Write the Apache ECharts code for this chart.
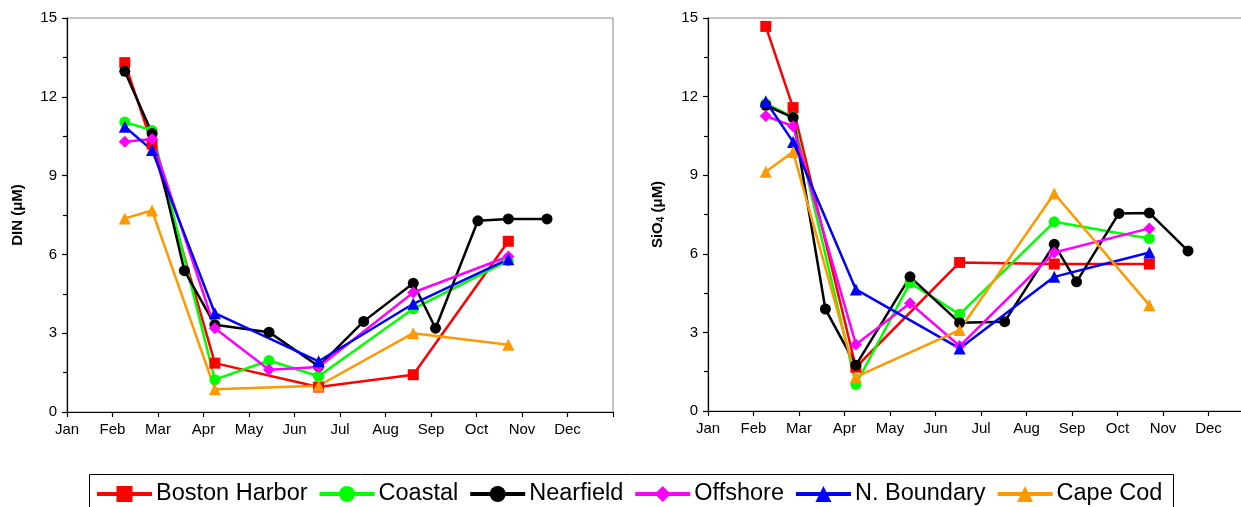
<!DOCTYPE html>
<html>
<head>
<meta charset="utf-8">
<script src="https://cdn.jsdelivr.net/npm/echarts@6/dist/echarts.min.js"></script>
<style>
html,body{margin:0;padding:0;background:#fff;}
#chart{width:1241px;height:507px;}
</style>
</head>
<body>
<div id="chart"></div>
<script>
// Month tick labels (x axis value 0 = start of Jan)
const monthLabels = ['Jan','Feb','Mar','Apr','May','Jun','Jul','Aug','Sep','Oct','Nov','Dec'];
// Survey dates, in months since Jan 1
const surveyMonths = [1.27, 1.87, 2.58, 3.25, 4.44, 5.53, 6.52, 7.61, 8.10, 9.03, 9.70, 10.55];
const yTicks = [0, 3, 6, 9, 12, 15];

// DIN (uM)
const dinBoston    = [13.3, 10.2, null, 1.86, null, 0.95, null, 1.42, null, null, 6.5, null];
const dinCoastal   = [11.04, 10.72, null, 1.23, 1.96, 1.36, null, 3.93, null, null, 5.76, null];
const dinNearfield = [12.97, 10.6, 5.38, 3.32, 3.04, 1.74, 3.45, 4.9, 3.19, 7.28, 7.35, 7.35];
const dinOffshore  = [10.29, 10.39, null, 3.19, 1.61, 1.71, null, 4.55, null, null, 5.92, null];
const dinNBoundary = [10.86, 9.97, null, 3.76, null, 1.93, null, 4.12, null, null, 5.82, null];
const dinCapeCod   = [7.37, 7.67, null, 0.87, null, 1.0, null, 3.0, null, null, 2.56, null];

// SiO4 (uM)
const sioBoston    = [14.68, 11.58, null, 1.67, null, 5.67, null, 5.61, null, null, 5.61, null];
const sioCoastal   = [11.73, 11.22, null, 1.02, 4.89, 3.69, null, 7.22, null, null, 6.58, null];
const sioNearfield = [11.67, 11.2, 3.89, 1.75, 5.12, 3.37, 3.41, 6.36, 4.93, 7.54, 7.56, 6.11];
const sioOffshore  = [11.26, 10.87, null, 2.54, 4.11, 2.48, null, 6.05, null, null, 6.97, null];
const sioNBoundary = [11.82, 10.27, null, 4.64, null, 2.39, null, 5.12, null, null, 6.05, null];
const sioCapeCod   = [9.13, 9.89, null, 1.3, null, 3.09, null, 8.30, null, null, 4.04, null];

const seriesNames = ['Boston Harbor','Coastal','Nearfield','Offshore','N. Boundary','Cape Cod'];
const seriesColors = ['#ff0000','#00ff00','#000000','#ff00ff','#0000ff','#ff9900'];
const seriesSymbols = ['rect','circle','circle','diamond','triangle','triangle'];
const seriesSizes = [11, 11, 11, 12, 12, 12];
const dinValues = [dinBoston, dinCoastal, dinNearfield, dinOffshore, dinNBoundary, dinCapeCod];
const sioValues = [sioBoston, sioCoastal, sioNearfield, sioOffshore, sioNBoundary, sioCapeCod];

const FONT = 'Liberation Sans, Arial, sans-serif';

function pairs(vals) {
  const out = [];
  vals.forEach((v, i) => { if (v !== null) out.push([surveyMonths[i], v]); });
  return out;
}

function xAxis(gridIndex) {
  return {
    type: 'value', gridIndex, min: 0, max: 12, interval: 1,
    axisLine: { show: true, lineStyle: { color: '#000', width: 1.2 } },
    axisTick: { show: true, inside: false, length: 5, lineStyle: { color: '#000', width: 1.2 } },
    axisLabel: { margin: 10, fontFamily: FONT, fontSize: 15, color: '#000',
      formatter: v => monthLabels[Math.round(v)] || '' },
    splitLine: { show: false }
  };
}
function yAxis(gridIndex, name, rich) {
  return {
    type: 'value', gridIndex, min: yTicks[0], max: yTicks[yTicks.length - 1], interval: 3,
    axisLine: { show: true, lineStyle: { color: '#000', width: 1.2 } },
    axisTick: { show: true, inside: false, length: 5, lineStyle: { color: '#000', width: 1.2 } },
    minorTick: { show: true, splitNumber: 2, length: 4, lineStyle: { color: '#000', width: 1.2 } },
    axisLabel: { margin: 10, fontFamily: FONT, fontSize: 15, color: '#000' },
    splitLine: { show: false },
    name: name, nameLocation: 'middle', nameRotate: 90, nameGap: 42,
    nameTextStyle: { fontFamily: FONT, fontSize: 15, fontWeight: 'bold', color: '#000', rich: rich }
  };
}

const series = [];
[dinValues, sioValues].forEach((set, gi) => {
  set.forEach((vals, k) => {
    series.push({
      type: 'line', name: seriesNames[k], xAxisIndex: gi, yAxisIndex: gi,
      data: pairs(vals),
      symbol: seriesSymbols[k], symbolSize: seriesSizes[k],
      lineStyle: { color: seriesColors[k], width: 2.5 },
      itemStyle: { color: seriesColors[k] },
      animation: false
    });
  });
});

const chart = echarts.init(document.getElementById('chart'), null, { renderer: 'canvas' });
chart.setOption({
  animation: false,
  grid: [
    { left: 67, top: 18, width: 546, height: 394, show: true, borderColor: '#8a8a8a', borderWidth: 1, outerBoundsMode: 'none', containLabel: false },
    { left: 708, top: 18, width: 546, height: 393, show: true, borderColor: '#8a8a8a', borderWidth: 1, outerBoundsMode: 'none', containLabel: false }
  ],
  xAxis: [xAxis(0), xAxis(1)],
  yAxis: [
    yAxis(0, 'DIN (μM)'),
    yAxis(1, '{a|SiO}{b|4}{a| (μM)}', {
      a: { fontFamily: FONT, fontSize: 15, fontWeight: 'bold', color: '#000' },
      b: { fontFamily: FONT, fontSize: 10, fontWeight: 'bold', color: '#000', verticalAlign: 'bottom', padding: [6, 0, 0, 0] }
    })
  ],
  legend: {
    data: seriesNames,
    left: 95, top: 482, padding: 0,
    itemGap: 10, itemWidth: 55, itemHeight: 20,
    lineStyle: { width: 4 },
    textStyle: { fontFamily: FONT, fontSize: 23.5, color: '#000', padding: [0, 0, 0, -1] },
    selectedMode: false
  },
  graphic: [{
    type: 'rect', silent: true,
    shape: { x: 89.5, y: 474.5, width: 1084, height: 40 },
    style: { fill: 'none', stroke: '#000', lineWidth: 1 }
  }],
  series: series
});
</script>
</body>
</html>
